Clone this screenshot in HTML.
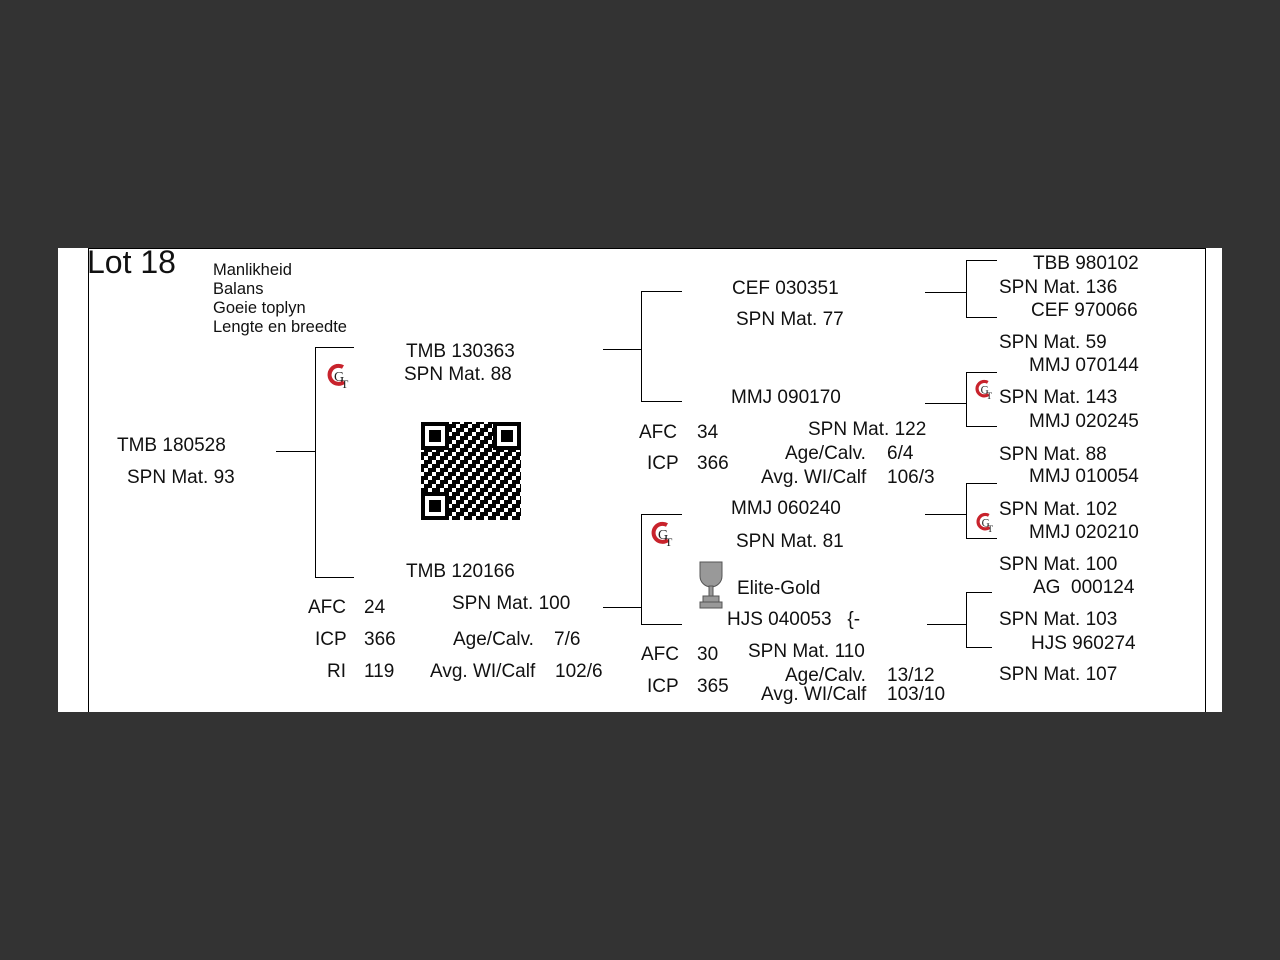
<!DOCTYPE html>
<html><head><meta charset="utf-8"><style>
body{margin:0;width:1280px;height:960px;background:#333;position:relative;overflow:hidden;font-family:"Liberation Sans",sans-serif;}
#card{position:absolute;left:58px;top:248px;width:1164px;height:464px;background:#fff;}
.t{position:absolute;font-size:19px;line-height:20px;color:#111;white-space:pre;margin-top:2px;}
.s{font-size:16.5px;line-height:18px;}
.h{position:absolute;height:1px;background:#000;}
.v{position:absolute;width:1px;background:#000;}
</style></head><body>
<div id="card"></div>
<div class="v" style="left:88px;top:248px;height:464px"></div>
<div class="v" style="left:1205px;top:248px;height:464px"></div>
<div class="h" style="left:88px;top:248px;width:1118px"></div>

<div class="t" style="left:87px;top:242px;font-size:32px;line-height:36px">Lot 18</div>
<div class="t s" style="left:213px;top:259px">Manlikheid</div>
<div class="t s" style="left:213px;top:278px">Balans</div>
<div class="t s" style="left:213px;top:297px">Goeie toplyn</div>
<div class="t s" style="left:213px;top:316px">Lengte en breedte</div>

<!-- lines -->
<div class="h" style="left:276px;top:451px;width:39px"></div>
<div class="v" style="left:315px;top:347px;height:231px"></div>
<div class="h" style="left:315px;top:347px;width:39px"></div>
<div class="h" style="left:315px;top:577px;width:39px"></div>

<div class="h" style="left:603px;top:349px;width:38px"></div>
<div class="v" style="left:641px;top:291px;height:111px"></div>
<div class="h" style="left:641px;top:291px;width:41px"></div>
<div class="h" style="left:641px;top:401px;width:41px"></div>

<div class="h" style="left:603px;top:607px;width:38px"></div>
<div class="v" style="left:641px;top:514px;height:111px"></div>
<div class="h" style="left:641px;top:514px;width:41px"></div>
<div class="h" style="left:641px;top:624px;width:41px"></div>

<div class="h" style="left:925px;top:292px;width:41px"></div>
<div class="v" style="left:966px;top:260px;height:58px"></div>
<div class="h" style="left:966px;top:260px;width:31px"></div>
<div class="h" style="left:966px;top:317px;width:31px"></div>

<div class="h" style="left:925px;top:403px;width:41px"></div>
<div class="v" style="left:966px;top:372px;height:55px"></div>
<div class="h" style="left:966px;top:372px;width:31px"></div>
<div class="h" style="left:966px;top:426px;width:31px"></div>

<div class="h" style="left:925px;top:514px;width:41px"></div>
<div class="v" style="left:966px;top:483px;height:56px"></div>
<div class="h" style="left:966px;top:483px;width:31px"></div>
<div class="h" style="left:966px;top:538px;width:31px"></div>

<div class="h" style="left:927px;top:624px;width:39px"></div>
<div class="v" style="left:966px;top:592px;height:56px"></div>
<div class="h" style="left:966px;top:592px;width:26px"></div>
<div class="h" style="left:966px;top:647px;width:26px"></div>

<!-- texts -->
<div class="t" style="left:117px;top:434px">TMB 180528</div>
<div class="t" style="left:127px;top:466px">SPN Mat. 93</div>
<div class="t" style="left:406px;top:340px">TMB 130363</div>
<div class="t" style="left:404px;top:363px">SPN Mat. 88</div>
<div class="t" style="left:406px;top:560px">TMB 120166</div>
<div class="t" style="left:308px;top:596px">AFC</div>
<div class="t" style="left:364px;top:596px">24</div>
<div class="t" style="left:452px;top:592px">SPN Mat. 100</div>
<div class="t" style="left:315px;top:628px">ICP</div>
<div class="t" style="left:364px;top:628px">366</div>
<div class="t" style="left:453px;top:628px">Age/Calv.</div>
<div class="t" style="left:554px;top:628px">7/6</div>
<div class="t" style="left:327px;top:660px">RI</div>
<div class="t" style="left:364px;top:660px">119</div>
<div class="t" style="left:430px;top:660px">Avg. WI/Calf</div>
<div class="t" style="left:555px;top:660px">102/6</div>

<div class="t" style="left:732px;top:277px">CEF 030351</div>
<div class="t" style="left:736px;top:308px">SPN Mat. 77</div>
<div class="t" style="left:731px;top:386px">MMJ 090170</div>
<div class="t" style="left:639px;top:421px">AFC</div>
<div class="t" style="left:697px;top:421px">34</div>
<div class="t" style="left:808px;top:418px">SPN Mat. 122</div>
<div class="t" style="left:647px;top:452px">ICP</div>
<div class="t" style="left:697px;top:452px">366</div>
<div class="t" style="left:785px;top:442px">Age/Calv.</div>
<div class="t" style="left:887px;top:442px">6/4</div>
<div class="t" style="left:761px;top:466px">Avg. WI/Calf</div>
<div class="t" style="left:887px;top:466px">106/3</div>

<div class="t" style="left:731px;top:497px">MMJ 060240</div>
<div class="t" style="left:736px;top:530px">SPN Mat. 81</div>
<div class="t" style="left:737px;top:577px">Elite-Gold</div>
<div class="t" style="left:727px;top:608px">HJS 040053   {-</div>
<div class="t" style="left:641px;top:643px">AFC</div>
<div class="t" style="left:697px;top:643px">30</div>
<div class="t" style="left:748px;top:640px">SPN Mat. 110</div>
<div class="t" style="left:647px;top:675px">ICP</div>
<div class="t" style="left:697px;top:675px">365</div>
<div class="t" style="left:785px;top:664px">Age/Calv.</div>
<div class="t" style="left:887px;top:664px">13/12</div>
<div class="t" style="left:761px;top:683px">Avg. WI/Calf</div>
<div class="t" style="left:887px;top:683px">103/10</div>

<div class="t" style="left:1033px;top:252px">TBB 980102</div>
<div class="t" style="left:999px;top:276px">SPN Mat. 136</div>
<div class="t" style="left:1031px;top:299px">CEF 970066</div>
<div class="t" style="left:999px;top:331px">SPN Mat. 59</div>
<div class="t" style="left:1029px;top:354px">MMJ 070144</div>
<div class="t" style="left:999px;top:386px">SPN Mat. 143</div>
<div class="t" style="left:1029px;top:410px">MMJ 020245</div>
<div class="t" style="left:999px;top:443px">SPN Mat. 88</div>
<div class="t" style="left:1029px;top:465px">MMJ 010054</div>
<div class="t" style="left:999px;top:498px">SPN Mat. 102</div>
<div class="t" style="left:1029px;top:521px">MMJ 020210</div>
<div class="t" style="left:999px;top:553px">SPN Mat. 100</div>
<div class="t" style="left:1033px;top:576px">AG  000124</div>
<div class="t" style="left:999px;top:608px">SPN Mat. 103</div>
<div class="t" style="left:1031px;top:632px">HJS 960274</div>
<div class="t" style="left:999px;top:663px">SPN Mat. 107</div>

<svg width="1280" height="960" style="position:absolute;left:0;top:0">
<defs>
<g id="gt">
<path d="M16,3 A9,9 0 1 0 17,18" fill="none" stroke="#c8232c" stroke-width="4"/>
<text x="7" y="17" font-family="Liberation Serif,serif" font-size="14" fill="#222">G</text>
<text x="14" y="24" font-family="Liberation Serif,serif" font-size="12" fill="#222">T</text>
</g>
<pattern id="qp" width="12" height="12" patternUnits="userSpaceOnUse">
<rect x="0" y="0" width="4" height="4"/><rect x="8" y="0" width="4" height="8"/><rect x="4" y="4" width="4" height="4"/><rect x="0" y="8" width="8" height="4"/>
</pattern>
</defs>
<use href="#gt" x="327" y="364"/>
<use href="#gt" x="651" y="522"/>
<use href="#gt" transform="translate(975,380) scale(0.8)"/>
<use href="#gt" transform="translate(976,513) scale(0.8)"/>
<g fill="#999" stroke="#555" stroke-width="1">
<path d="M700,562 h22 v14 a11,11 0 0 1 -22,0 z"/>
<rect x="709" y="586" width="4" height="10"/>
<rect x="703" y="596" width="16" height="6"/>
<rect x="700" y="602" width="22" height="6"/>
</g>
<rect x="421" y="422" width="100" height="98" fill="url(#qp)"/>
<g>
<rect x="421" y="422" width="28" height="28" fill="#fff"/><rect x="423" y="424" width="24" height="24" fill="none" stroke="#000" stroke-width="4"/>
<rect x="429" y="430" width="12" height="12" fill="#000"/>
<rect x="493" y="422" width="28" height="28" fill="#fff"/><rect x="495" y="424" width="24" height="24" fill="none" stroke="#000" stroke-width="4"/>
<rect x="501" y="430" width="12" height="12" fill="#000"/>
<rect x="421" y="492" width="28" height="28" fill="#fff"/><rect x="423" y="494" width="24" height="24" fill="none" stroke="#000" stroke-width="4"/>
<rect x="429" y="500" width="12" height="12" fill="#000"/>
</g>
</svg>
</body></html>
